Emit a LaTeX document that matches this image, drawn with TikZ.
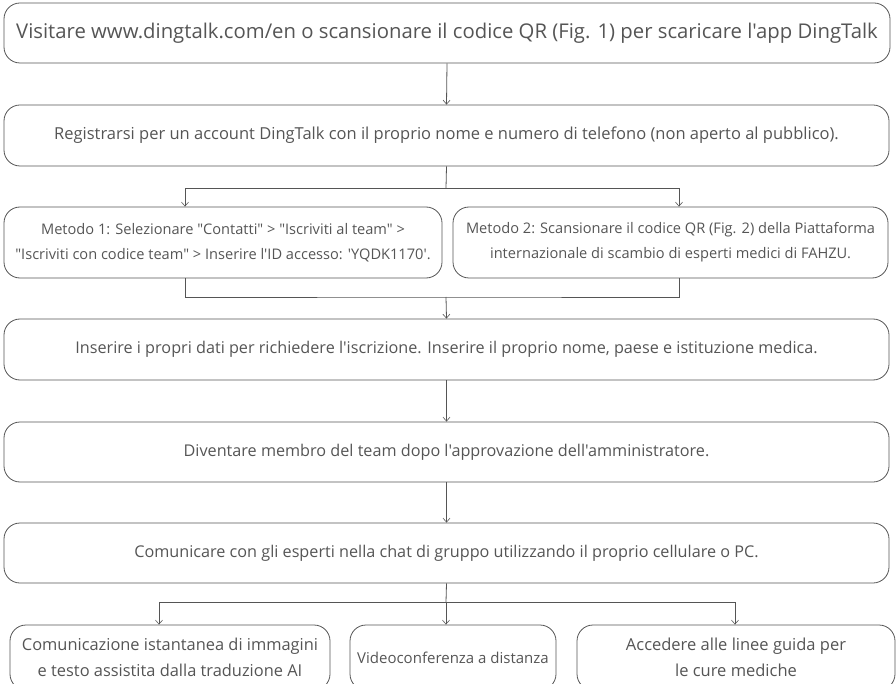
\documentclass[tikz,border=0pt]{standalone}
\usepackage{fontspec}
\setmainfont{Open Sans}[Ligatures=TeXOff]
\usetikzlibrary{arrows.meta,positioning}
\definecolor{inkgray}{HTML}{555555}

\begin{document}
\begin{tikzpicture}[x=1pt,y=-1pt,
    stepbox/.style={draw=inkgray, line width=0.8pt, rounded corners=16pt,
      text=inkgray, align=center, inner sep=0pt, font=\fontsize{16.2}{26}\selectfont},
    link/.style={draw=inkgray, line width=0.8pt},
    arr/.style={link, -{Straight Barb[length=4pt,width=7pt,line width=0.6pt]}}]
  \useasboundingbox (0,0) rectangle (896,684);
  % main chain
  \node[stepbox, minimum width=886pt, minimum height=60pt, font=\fontsize{20.3}{24}\selectfont]
    (visit) at (447,33) {Visitare www.dingtalk.com/en o scansionare il codice QR (Fig. 1) per scaricare l'app DingTalk};
  \node[stepbox, minimum width=885pt, minimum height=61pt, font=\fontsize{16.5}{26}\selectfont] (reg) at (446.5,135.5)
    {Registrarsi per un account DingTalk con il proprio nome e numero di telefono (non aperto al pubblico).};
  \node[stepbox, minimum width=438pt, minimum height=71pt, font=\fontsize{14.6}{25}\selectfont] (m1) at (223,242.5)
    {Metodo 1: Selezionare "Contatti" > "Iscriviti al team" >\\ "Iscriviti con codice team" > Inserire l'ID accesso: 'YQDK1170'.};
  \node[stepbox, minimum width=435pt, minimum height=71pt, font=\fontsize{14.6}{25}\selectfont] (m2) at (670.5,242.5)
    {Metodo 2: Scansionare il codice QR (Fig. 2) della Piattaforma\\ internazionale di scambio di esperti medici di FAHZU.};
  \node[stepbox, minimum width=885pt, minimum height=61pt] (data) at (446.5,349.5)
    {Inserire i propri dati per richiedere l'iscrizione. Inserire il proprio nome, paese e istituzione medica.};
  \node[stepbox, minimum width=885pt, minimum height=60pt] (member) at (446.5,452)
    {Diventare membro del team dopo l'approvazione dell'amministratore.};
  \node[stepbox, minimum width=885pt, minimum height=60pt] (chat) at (446.5,553)
    {Comunicare con gli esperti nella chat di gruppo utilizzando il proprio cellulare o PC.};
  % services
  \node[stepbox, minimum width=320pt, minimum height=65pt, font=\fontsize{16.4}{26}\selectfont] (ai) at (170,657.5)
    {Comunicazione istantanea di immagini\\ e testo assistita dalla traduzione AI};
  \node[stepbox, minimum width=206pt, minimum height=65pt, font=\fontsize{15}{26}\selectfont] (video) at (453,657.5)
    {Videoconferenza a distanza};
  \node[stepbox, minimum width=318pt, minimum height=65pt, font=\fontsize{16.5}{26}\selectfont] (guide) at (736,657.5)
    {Accedere alle linee guida per\\ le cure mediche};
  % connectors
  \coordinate (fork1) at (446,188);
  \coordinate (join1) at (446,297);
  \coordinate (fork2) at (446,602);
  \draw[arr] (visit.south) -- (reg.north);
  \draw[link] (reg.south) -- (fork1);
  \draw[arr] (fork1) -| ([xshift=-38pt]m1.north);
  \draw[arr] (fork1) -| ([xshift=8.5pt]m2.north);
  \draw[link] ([xshift=-38pt]m1.south) |- (join1) -| ([xshift=8.5pt]m2.south);
  \draw[arr] (join1) -- (data.north);
  \draw[arr] (data.south) -- (member.north);
  \draw[arr] (member.south) -- (chat.north);
  \draw[link] (chat.south) -- (fork2);
  \draw[arr] (fork2) -| ([xshift=-11pt]ai.north);
  \draw[arr] (fork2) -- ([xshift=-7pt]video.north);
  \draw[arr] (fork2) -| ([xshift=-1pt]guide.north);
\end{tikzpicture}
\end{document}
